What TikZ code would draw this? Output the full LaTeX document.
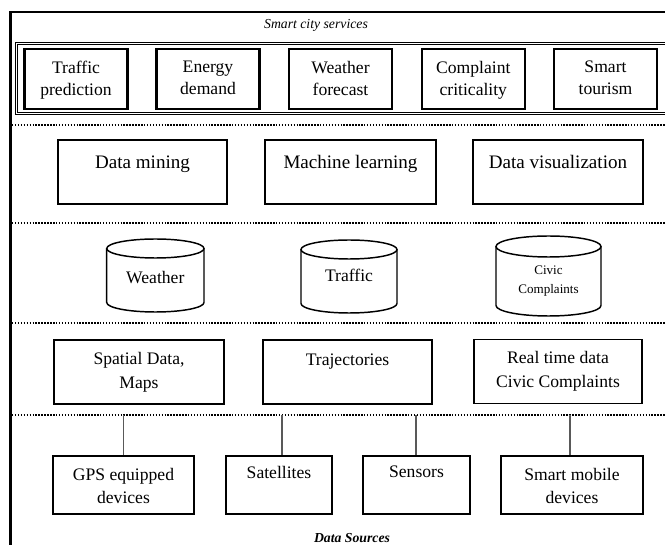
\documentclass[tikz,border=0pt]{standalone}
\usepackage{fontspec}
\setmainfont{Liberation Serif}

\begin{document}
\begin{tikzpicture}[x=0.75pt, y=-0.75pt, every node/.style={inner sep=0pt},
  frame/.style={line width=2.2pt},
  dotline/.style={line width=1.2pt, dash pattern=on 1.1pt off 1.1pt},
  box/.style 2 args={draw, line width=1.3pt, minimum width=#1*0.75pt, minimum height=#2*0.75pt},
  svc/.style={box={103}{60}, line width=1.6pt},
  cylline/.style={line width=1.1pt},
  txt/.style={anchor=north, align=center, font=\fontsize{13.2}{#1}\selectfont},
  txt/.default=17.5,
  big/.style={anchor=north, font=\fontsize{14.3}{17}\selectfont},
  small/.style={anchor=north, align=center, font=\fontsize{9.8}{14.3}\selectfont},
  link/.style={line width=0.8pt, black!65},
  title/.style={anchor=base, font=\fontsize{10.3}{12}\selectfont\itshape},
  btitle/.style={anchor=base, font=\fontsize{10.3}{12}\selectfont\bfseries\itshape}]
  \clip (0,0) rectangle (665,545);
  % outer frame, runs off the page
  \draw[frame] (10.5,12) rectangle (720,600);
  \node[title] (top) at (316,29) {Smart city services};
  \draw[line width=0.9pt, double, double distance=1.1pt] (16.5,43.5) rectangle (720,113.5);
  \foreach \i/\x/\t in {1/76/{Traffic\\prediction}, 2/208/{Energy\\demand}, 3/340.5/{Weather\\forecast},
      4/473.3/{Complaint\\criticality}, 5/605.5/{Smart\\tourism}} {
    \node[svc] (svc\i) at (\x,79) {};
    \node[txt=16.5] (svct\i) at (\x,61) {\t};
  }
  % layer separators
  \foreach \y in {125,223,323,415} { \draw[dotline] (12,\y) -- (665,\y); }
  % analytics
  \node[box={169}{64}] (dm) at (142.5,172) {};
  \node[big] (dmT) at (142.5,155.5) {Data mining};
  \node[box={171}{64}] (ml) at (350.5,172) {};
  \node[big] (mlT) at (350.5,155.5) {Machine learning};
  \node[box={170}{64}] (dv) at (558,172) {};
  \node[big] (dvT) at (558,155.5) {Data visualization};
  % stores: left/right/top/bottom/half height of the lid
  \foreach \l/\r/\t/\b/\e in {106.7/204/239/312/9.5, 301/397/240/313/9.5, 496/601/236/316/10.5} {
    \draw[cylline] (\l,\t+\e) -- (\l,\b-\e)
      arc[start angle=180, end angle=0, x radius=(\r-\l)/2, y radius=\e] -- (\r,\t+\e);
    \draw[cylline] ({(\l+\r)/2},\t+\e) ellipse [x radius=(\r-\l)/2, y radius=\e];
  }
  \node[txt] (cwT) at (155.3,271) {Weather};
  \node[txt] (ctT) at (349,269) {Traffic};
  \node[small] (ccT) at (548.5,265.5) {Civic\\Complaints};
  % data
  \node[box={170}{64}] (sd) at (139,372) {};
  \node[txt=18] (sdT) at (139,352) {Spatial Data,\\Maps};
  \node[box={169}{64}] (tr) at (347.5,372) {};
  \node[txt] (trT) at (347.5,354) {Trajectories};
  \node[box={168}{64}] (rt) at (558,371.5) {};
  \node[txt=18] (rtT) at (558,351) {Real time data\\Civic Complaints};
  % sources
  \node[box={141}{58}] (gps) at (123.5,485) {};
  \node[txt=17.3] (gpsT) at (123.5,468) {GPS equipped\\devices};
  \node[box={106}{58}] (sat) at (279,485) {};
  \node[txt] (satT) at (279,466) {Satellites};
  \node[box={107}{58}] (sen) at (416.5,485) {};
  \node[txt] (senT) at (416.5,466) {Sensors};
  \node[box={142}{58}] (smd) at (572,485) {};
  \node[txt=17.3] (smdT) at (572,468) {Smart mobile\\devices};
  \foreach \i/\x/\b in {1/123.7/gps, 2/282/sat, 3/416/sen, 4/570/smd} {
    \coordinate (d\i) at (\x,415);
    \draw[link] (d\i) -- (d\i |- \b.north);
  }
  \node[btitle] (bottom) at (352,543) {Data Sources};
\end{tikzpicture}
\end{document}
